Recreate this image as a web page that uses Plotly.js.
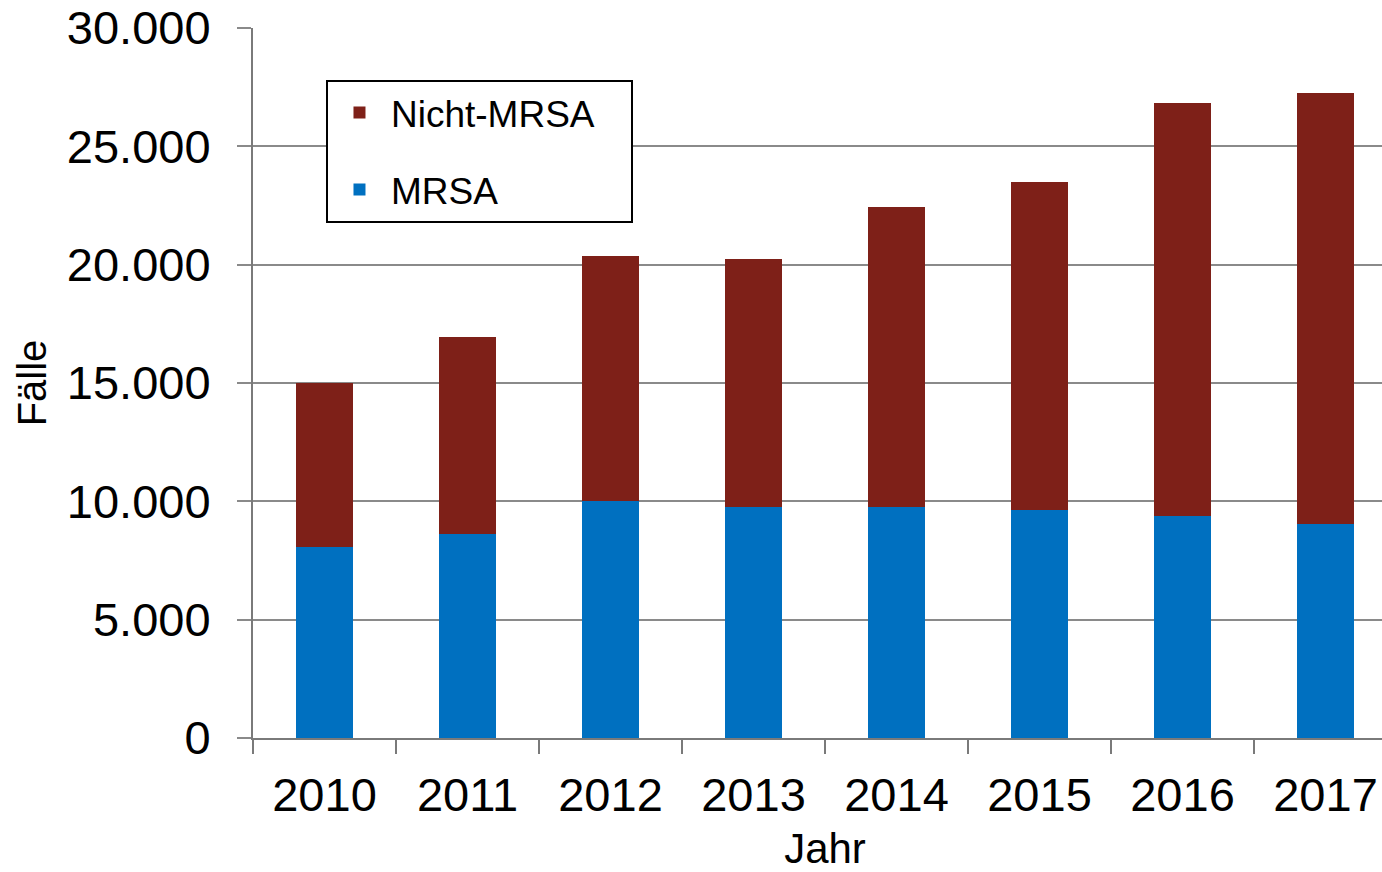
<!DOCTYPE html>
<html>
<head>
<meta charset="utf-8">
<script src="https://cdn.plot.ly/plotly-3.0.1.min.js"></script>
<style>
  html, body { margin: 0; padding: 0; overflow: hidden; background: #fff; }
  #chart { width: 1397px; height: 872px; }
</style>
</head>
<body>
<div id="chart"></div>
<script>
const years = ["2010", "2011", "2012", "2013", "2014", "2015", "2016", "2017"];
const mrsa = [8050, 8640, 10000, 9740, 9740, 9650, 9370, 9030];
const nichtMrsa = [6950, 8310, 10380, 10490, 12690, 13840, 17460, 18220];
const yTicks = [0, 5000, 10000, 15000, 20000, 25000, 30000];

const font = "Liberation Sans, Arial, sans-serif";

// trailing no-break spaces widen the legend box like in the original
const pad = "\u00a0\u00a0\u00a0";

const data = [
    {
        x: years,
        y: mrsa,
        name: "MRSA",
        type: "bar",
        legendgroup: "a",
        legendrank: 2,
        marker: { color: "#0070C0", line: { width: 0 } }
    },
    {
        x: years,
        y: nichtMrsa,
        name: "Nicht-MRSA" + pad,
        type: "bar",
        legendgroup: "b",
        legendrank: 1,
        marker: { color: "#7E2018", line: { width: 0 } }
    }
];

const layout = {
    width: 1397,
    height: 872,
    margin: { l: 253, r: 0, t: 28, b: 134 },
    barmode: "stack",
    bargap: 0.6,
    separators: ",.",
    paper_bgcolor: "#fff",
    plot_bgcolor: "#fff",
    font: { family: font, color: "#000" },
    xaxis: {
        type: "category",
        title: { text: "Jahr", font: { size: 42 } },
        tickfont: { size: 47 },
        tickson: "boundaries",
        ticks: "outside",
        ticklen: 14,
        tickwidth: 2,
        tickcolor: "#7a7a7a",
        ticklabelstandoff: 15,
        showline: true,
        linecolor: "#7a7a7a",
        linewidth: 2,
        showgrid: false,
        range: [-0.5, 7.5]
    },
    yaxis: {
        title: { text: "Fälle", font: { size: 40 }, standoff: 8 },
        tickfont: { size: 47 },
        tickvals: yTicks,
        tickformat: ",d",
        range: [0, 30000],
        ticks: "outside",
        ticklen: 14,
        tickwidth: 2,
        tickcolor: "#8a8a8a",
        ticklabelstandoff: 17,
        showline: true,
        linecolor: "#7a7a7a",
        linewidth: 2,
        gridcolor: "#8a8a8a",
        gridwidth: 2,
        zeroline: false
    },
    showlegend: true,
    legend: {
        x: 0.0638,
        y: 0.927,
        xanchor: "left",
        yanchor: "top",
        traceorder: "grouped",
        tracegroupgap: 26,
        itemwidth: 53,
        bordercolor: "#000",
        borderwidth: 2,
        bgcolor: "#fff",
        font: { size: 37 }
    }
};

Plotly.newPlot("chart", data, layout, { displayModeBar: false });
</script>
</body>
</html>
